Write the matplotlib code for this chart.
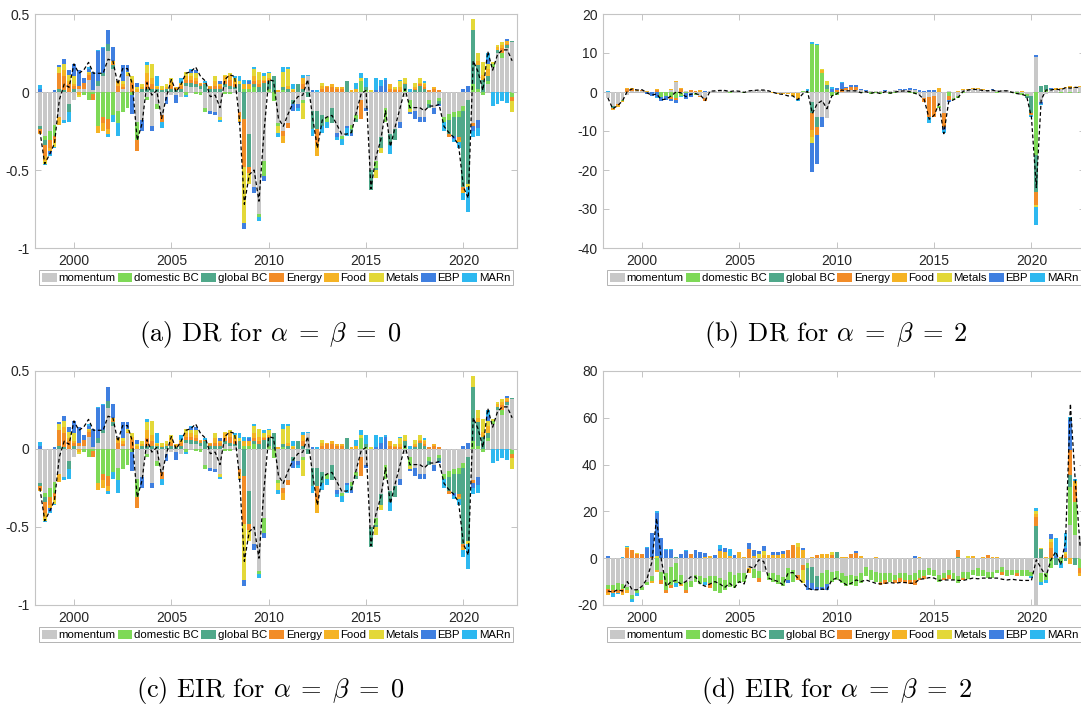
import numpy as np
import matplotlib
matplotlib.use('Agg')
import matplotlib.pyplot as plt
from matplotlib.patches import Patch

# quarterly observations 1998Q2 .. 2022Q3
n_q = 98
dates = 1998.25 + 0.25 * np.arange(n_q)

names = ['momentum', 'domestic BC', 'global BC', 'Energy', 'Food', 'Metals', 'EBP', 'MARn']
colors = ['#c8c8c8', '#7ed957', '#4fa88a', '#f28c28', '#f5b324', '#e3d838', '#3f7fe0', '#2db8f0']

# ---- DR / EIR for alpha = beta = 0 (panels a and c) ----
a_mom = [-0.22, -0.28, -0.25, -0.21, -0.16, -0.18, -0.08, -0.05, 0.02, 0.02,
         0.08, 0.01, 0.04, 0.10, 0.26, 0.15, -0.12, 0.02, 0.10, 0,
         -0.19, -0.18, -0.03, -0.22, -0.08, -0.15, -0.03, -0.02, -0.02, -0.03,
         0.04, 0.03, 0.03, 0.02, -0.10, -0.12, -0.13, -0.16, 0.03, 0.02,
         0.02, -0.13, 0, -0.27, -0.61, -0.78, -0.44, 0, 0, -0.20,
         -0.25, -0.20, -0.05, -0.08, -0.05, 0.10, -0.12, -0.12, -0.15, -0.16,
         -0.10, -0.26, -0.28, -0.22, -0.21, -0.15, -0.05, -0.10, -0.50, -0.44,
         -0.29, -0.10, -0.27, -0.24, -0.19, -0.03, -0.05, -0.12, -0.16, -0.16,
         -0.05, -0.10, -0.04, -0.16, -0.14, -0.13, -0.12, -0.09, -0.05, -0.20,
         -0.18, 0, 0.05, 0.16, 0.25, 0.22, 0.28, 0.32]
a_dom = [0, -0.03, -0.06, -0.07, 0, 0, 0, 0, 0, -0.02,
         -0.05, -0.01, -0.22, -0.16, -0.17, -0.15, -0.08, -0.13, -0.10, -0.02,
         -0.12, 0, -0.02, 0, -0.03, 0, 0, 0, 0, 0,
         -0.02, 0, -0.01, -0.02, -0.03, 0, 0, 0, -0.01, -0.01,
         0, 0, 0.02, 0.02, 0.03, -0.02, -0.10, 0.02, -0.06, -0.02,
         0.01, 0, 0, 0, -0.02, 0, 0, 0, 0, -0.03,
         0, 0, -0.02, 0, -0.03, -0.02, 0.07, 0.01, 0, -0.05,
         0, -0.09, 0, 0, 0, 0.01, -0.06, 0, 0, 0,
         -0.03, 0, -0.02, -0.03, -0.04, -0.03, -0.04, -0.03, 0, 0.05,
         0.02, -0.02, 0.02, 0.02, 0, 0.03, 0, -0.03]
a_glob = [-0.02, -0.03, 0, 0, 0.02, 0.01, -0.05, 0.02, 0, 0,
          0, 0, 0.03, 0.02, 0.05, 0.02, 0, 0, 0, 0,
          0, 0.02, 0.02, 0.02, 0.02, 0.01, 0.02, 0.02, 0.01, 0.02,
          0.02, 0.03, 0.02, 0.02, 0.05, 0.02, 0.02, 0.02, 0.02, 0.02,
          0.01, 0.05, -0.17, -0.21, 0.02, 0.03, 0.06, 0.05, 0.10, 0,
          0.02, 0.02, -0.03, 0.05, 0.02, -0.03, -0.12, -0.12, -0.07, 0,
          -0.10, 0, 0, 0.07, -0.02, -0.02, 0, 0.02, -0.13, -0.01,
          -0.07, 0, -0.07, -0.07, 0, 0.04, 0, 0.01, 0.04, 0.02,
          -0.02, 0, -0.02, 0, -0.09, -0.12, -0.13, -0.49, -0.54, 0.35,
          0.15, 0.08, 0.03, 0, 0.02, 0, 0.02, 0.01]
a_ene = [-0.02, -0.07, -0.05, -0.03, 0.10, 0.09, 0.05, 0.02, 0.02, 0.04,
         0.03, -0.04, 0, -0.04, -0.07, 0.01, 0.04, 0.01, 0, 0.06,
         -0.07, 0, 0.05, 0.03, 0, -0.04, 0, 0.02, 0.01, 0.02,
         0.02, 0.02, 0.02, 0.01, 0.01, 0.01, 0.02, 0.02, 0.02, 0.04,
         0.02, -0.03, -0.31, -0.04, 0.02, 0.02, 0.01, 0.01, 0, 0,
         -0.03, -0.03, 0, 0, 0.03, 0, 0, -0.09, 0.02, 0.03,
         0.03, 0.02, 0.02, 0, 0, 0, -0.12, 0, 0, 0,
         0, 0, 0.02, 0.01, 0.01, 0, 0, 0.01, 0.01, 0.01,
         0.01, 0.02, 0.01, 0, -0.02, 0, -0.02, -0.02, 0, -0.02,
         0, 0, 0, 0, 0, 0.03, 0.01, -0.03]
a_food = [-0.01, -0.03, -0.02, -0.02, -0.05, 0.04, 0.02, 0.01, -0.02, 0,
          0.01, 0, -0.04, -0.05, -0.03, 0.02, 0.03, 0.02, 0.01, 0.02,
          0.02, 0.01, 0.05, 0.04, 0.01, 0.01, 0.01, 0.03, 0.01, 0.01,
          0.02, 0.02, 0.02, 0.01, 0, 0.01, 0.03, 0.01, 0.03, 0.03,
          0.02, -0.03, 0.03, 0.03, 0.03, 0.03, 0.01, 0.01, 0, 0.01,
          -0.05, 0.02, 0.01, 0, 0.04, 0, 0, -0.08, 0.02, 0.01,
          0.02, 0.01, 0.01, 0, 0.01, 0.02, 0, 0, 0, 0,
          0, 0, 0.03, 0.01, 0.02, 0.01, 0, 0.01, 0.01, 0.02,
          0, 0.01, 0, 0, 0, 0, -0.01, -0.02, 0, 0,
          0.03, 0.03, 0.05, 0, 0.02, 0.02, 0.02, 0]
a_met = [0, -0.02, 0, -0.02, 0.04, 0.04, 0.04, 0.05, -0.01, 0,
         0.01, 0, 0, 0, 0, 0, 0, 0.02, 0.02, 0.02,
         0.01, 0.02, 0.05, 0.09, 0.01, 0.02, 0.02, 0.02, 0, 0.01,
         0.03, 0.02, 0.03, 0, 0, 0, 0.03, -0.02, 0.01, 0.01,
         0.02, 0.02, -0.36, -0.07, 0.05, 0.05, 0.02, 0.03, 0, -0.04,
         0.10, 0.11, 0.01, 0, -0.10, 0, 0, 0, 0.02, 0,
         0, 0, 0, 0, 0, 0, 0.02, 0, 0.01, -0.05,
         -0.03, 0, 0, 0.01, 0.04, 0.03, -0.02, 0.03, 0.03, 0.01,
         0, 0, 0, 0, 0, 0, 0, 0, -0.02, 0.07,
         0.05, 0.08, 0.03, 0.01, 0.01, 0.02, 0, -0.07]
a_ebp = [0.02, 0, -0.02, 0.01, 0.01, 0.03, 0.03, 0.08, 0.10, 0.03,
         0.02, 0.12, 0.19, 0.16, 0.09, 0.09, 0, 0.10, 0.04, -0.12,
         0.03, -0.07, 0, -0.03, 0, 0, -0.05, 0, -0.05, 0,
         0, 0.02, 0.02, 0, 0, -0.02, -0.02, 0.02, 0, 0,
         0, -0.01, -0.04, 0.02, -0.04, 0, -0.03, 0, 0, 0,
         0, 0, -0.04, -0.02, 0, 0, 0.01, 0, 0, 0,
         0, -0.03, 0, -0.01, -0.02, 0, 0, -0.02, 0, 0.01,
         0.04, 0.08, 0, 0, -0.04, 0, -0.01, -0.05, -0.03, -0.03,
         0, -0.04, -0.01, 0, 0, -0.02, 0, 0.02, 0.04, -0.03,
         -0.05, 0, 0.03, 0, 0, 0, 0.01, 0]
a_marn = [0.025, -0.01, -0.01, -0.01, 0, -0.02, -0.06, 0, 0, 0,
          0.01, 0, 0.01, 0.01, -0.02, -0.04, -0.08, 0, 0, 0,
          0, 0, 0.02, 0, 0.06, -0.04, 0, 0, 0, 0.03,
          -0.01, 0.01, 0, 0, 0.01, 0, 0, -0.01, 0, 0,
          0.01, 0.03, 0.03, 0.01, 0.01, -0.03, 0.02, 0.01, 0, -0.03,
          0.03, 0.01, 0.03, -0.02, 0.02, 0.01, -0.04, 0.01, -0.04, -0.04,
          0, -0.02, -0.04, -0.05, 0, 0.04, 0.03, 0.06, 0, 0.08,
          0.04, 0.01, -0.06, 0, 0.01, 0, 0.02, 0, 0, 0.01,
          0, 0, 0, -0.06, 0, -0.02, -0.04, -0.04, -0.16, -0.04,
          -0.05, 0, 0.04, -0.09, -0.08, -0.06, -0.07, 0]
a_line = [-0.25, -0.46, -0.40, -0.33, -0.05, 0.05, 0.03, 0.18, 0.12, 0.14,
          0.19, 0.12, 0.12, 0.12, 0.21, 0.20, 0.05, 0.15, 0.15, 0.05,
          -0.31, -0.20, 0.06, -0.02, 0.01, -0.17, -0.03, 0.08, 0.0, 0.05,
          0.12, 0.13, 0.16, 0.10, 0.07, -0.03, -0.02, -0.10, 0.08, 0.11,
          0.10, -0.18, -0.72, -0.53, -0.50, -0.70, -0.27, 0.08, 0.07, -0.17,
          -0.22, -0.14, -0.07, -0.03, -0.02, 0.08, -0.16, -0.36, -0.18, -0.16,
          -0.15, -0.21, -0.27, -0.27, -0.26, -0.13, -0.01, 0.01, -0.62, -0.42,
          -0.31, -0.12, -0.35, -0.22, -0.10, 0.02, -0.10, -0.10, -0.10, -0.12,
          -0.09, -0.09, -0.08, -0.22, -0.26, -0.29, -0.34, -0.61, -0.68, 0.20,
          0.13, 0.01, 0.26, 0.14, 0.24, 0.27, 0.27, 0.20]

# ---- DR for alpha = beta = 2 (panel b) ----
b_mom = [-1.5, -3.5, -3.2, -2.0, -0.8, 0.3, 0.3, 0.3, 0.1, -0.1,
         0, 0, 0, 0.5, 2.5, -0.3, 0.2, -0.2, -0.3, -0.9,
         -1.5, 0.2, 0.2, 0.4, 0.4, 0.3, 0.3, 0.2, 0.1, 0.2,
         0.4, 0.5, 0.4, 0.3, 0.1, -0.3, -0.3, -0.3, -0.3, -0.2,
         -0.3, 0.3, -2.5, -6.4, -6.4, -6.6, 0, 0, 0.1, 0.4,
         0.4, 0.4, 0.4, 0.3, 0.3, 0.3, 0.3, 0.3, 0.2, 0.4,
         0.4, 0.5, 0.5, 0.4, -0.8, -1.5, -1.3, -1.0, -3.5, -5.5,
         0.3, -1.5, -1.0, 0.5, 0.6, 0.8, 0.7, 0.5, 0.4, 0.6,
         0.5, 0.4, 0.4, 0.3, 0.2, -0.3, -0.5, -1.0, 9.0, -2.5,
         -0.5, 0.4, 0.6, 0.7, 1.0, 1.1, 1.0, 1.2]
b_dom = [0, 0, 0, -0.4, 0, 0, 0, -0.1, 0, 0,
         0, -1.4, -1.0, -1.2, -1.5, -0.6, -0.2, 0, -0.5, 0,
         0, 0, 0.1, 0, 0, -0.3, 0, 0, -0.2, 0,
         0, 0, 0, 0, 0, 0, 0, 0, 0, 0,
         0.2, -0.3, 12.3, 12.0, 4.9, 0.8, -1.0, -0.8, 0, 0,
         0, 0, -0.3, 0, -0.4, -0.2, -0.5, 0, -0.4, -0.3,
         0, 0, -0.3, -0.5, 0, 0, 0, 0, -0.5, 0,
         -1.0, -0.5, -0.5, -0.3, 0, 0, 0, 0, 0, 0,
         -0.3, 0, 0, -0.3, -0.5, -0.5, -0.5, 0, -16.2, 0,
         0.5, 0, 0, -0.3, 0, -0.3, 0, -0.3]
b_glob = [0, -0.5, 0, 0, 0, 0, 0, 0, 0, 0,
          0, 0, 0, 0, 0, 0, 0, 0, 0, 0,
          0, 0, 0, 0, 0, 0, 0, 0, 0, 0,
          0, 0, 0, 0, 0, 0, 0, 0, 0, 0,
          0, 0, -3.0, -2.6, 0, 0.9, 0, 0, 0, 0,
          0, 0, 0, 0, 0, 0, 0, 0, 0, 0,
          0, 0, 0, 0, 0, 0, 0, 0, 0, 0,
          0, 0, 0, 0, 0, 0, 0, 0, 0, 0,
          0, 0, 0, 0, 0, 0, -0.5, -4.5, -9.4, 1.5,
          1.2, 0.4, 0, 0, 0, 0, 0, 0]
b_ene = [0, -0.3, -0.2, 0, 0.7, 0.5, 0, 0.1, 0, 0.1,
         0.6, 0, 0.1, -0.5, -0.6, 0.7, 0, 0.6, 0.3, -0.3,
         -0.8, 0.1, 0, 0, 0, 0, 0, 0, 0, 0,
         0, 0, 0, 0, 0, 0, 0, 0, 0, 0,
         0, 0, -4.3, -2.0, 0, 0, 0, 0.5, 0.6, 0.5,
         0.8, 0.8, 0, 0, 0, 0, 0, 0, 0, 0,
         0, 0, 0, 0, 0, -1.0, -5.2, -5.4, 0, -3.5,
         -1.0, 0, 0, 0, 0, 0, 0, 0, 0, 0,
         0, 0, 0, 0, 0, 0, 0, -0.5, -3.4, 0,
         0, 0, 0, 0, 0, 0, 0, 0]
b_food = [0, -0.3, -0.5, -0.2, 0.3, 0.3, 0.1, 0, 0.1, 0,
          0.2, 0.1, 0, 0.3, 0.2, 0.2, 0, 0, 0, 0.4,
          0, 0, 0, 0.1, 0, 0, 0, 0, 0, 0.1,
          0, 0, 0.1, 0, -0.2, -0.2, -0.3, -0.3, -0.7, -1.6,
          0, 0, -1.7, 0, 0.7, 0, 0, 0, 0, 0,
          0, 0, 0, 0, 0, 0, 0, 0, 0, 0,
          0, 0, 0, 0, 0, 0, 0, 0, 1.0, 0,
          0, 0, 0.3, 0.2, 0.2, 0.3, 0.2, 0.2, 0, 0,
          0, 0.1, 0, 0, 0, 0.3, 0, 0, 0, 0,
          0, 0, 0.3, 0.2, 0.3, 0.4, 0.3, 0.3]
b_met = [0, 0, 0, 0, 0, 0, 0, 0, 0, 0,
         0, 0, 0, 0, 0, 0, 0, 0, 0, 0,
         0, 0, 0, 0, 0, 0, 0, 0, 0, 0,
         0, 0, 0, 0, 0, 0, 0, 0, 0, 0,
         0, 0, -1.7, 0, 0.4, 1.0, 0, 0, 0, 0,
         0, 0, 0, 0, 0, 0, 0, 0, 0, 0,
         0, 0, 0, 0, 0, 0, 0, 0, 0, 0,
         0, 0, 0, 0, 0, 0, 0, 0, 0, 0,
         0, 0, 0, 0, 0, 0, 0, 0, -0.5, 0,
         0, 0, 0, 0, 0, 0, 0, 0]
b_ebp = [0, 0, 0, 0, 0, 0, 0, 0, -0.4, -0.9,
         -1.2, -0.8, -1.0, -0.6, -0.8, 0, -1.5, -1.0, 0, 0,
         0.3, 0, 0, 0, 0, 0, 0, 0, 0, 0,
         0, 0, 0, 0, 0, 0, 0, 0, 0, -0.3,
         0, 0, -7.3, -7.4, -2.6, 0, 0.8, 0.5, 1.5, 0.4,
         0.6, 0.6, 0.4, 0.2, 0, 0, 0, 0.2, 0, 0.2,
         0.3, 0.3, 0.4, 0.3, 0.4, 0.3, 0.5, 0.4, 0, -0.7,
         -0.5, 0, 0, 0, 0, 0, 0, 0, 0, 0.2,
         0, 0, 0, 0, 0, 0, 0, 0, 0.4, -0.5,
         0, 0.3, 0, 0, 0, 0, 0, 0]
b_marn = [0.3, 0, 0, 0, 0, 0, 0, 0, 0, 0,
          -0.3, 0, 0, 0, 0, -0.4, 0, 0, 0, 0,
          0, 0, 0, 0, 0, 0, 0, 0, 0, 0,
          0, 0, 0, 0, 0, 0, 0, 0, 0, -0.2,
          0, 0.4, 0.4, 0.3, 0, 0, 0.4, 0, 0.3, 0,
          0, 0, 0, 0, 0, 0, 0, 0, 0, 0,
          0, 0, 0, 0, 0, 0, -1.5, 0, 0, -0.8,
          0, 0, 0, 0, 0, 0, 0, 0, 0, 0,
          0, 0, 0, 0, 0, 0, 0, -0.5, -4.7, -0.3,
          0, 0, 0, 0, 0, 0, 0, 0]
b_line = [-1.5, -4.3, -3.5, -2.3, 0.2, 0.8, 0.5, 0.6, -0.2, -0.8,
          -0.5, -2.0, -1.8, -1.0, 0.0, -0.2, -1.2, -0.6, -0.4, -0.8,
          -2.2, 0.2, 0.3, 0.4, 0.4, 0.1, 0.3, 0.2, -0.1, 0.3,
          0.4, 0.5, 0.5, 0.3, -0.1, -0.5, -0.6, -1.0, -1.0, -2.0,
          -0.5, 0.2, -5.5, -3.0, -2.2, -4.3, -1.0, -0.5, 0.5, 0.3,
          0.3, 0.3, -0.2, 0.1, -0.3, -0.1, -0.4, 0.1, -0.3, 0.0,
          0.2, 0.3, 0.1, -0.3, -0.8, -2.0, -7.0, -6.0, -3.0, -10.7,
          -2.5, -2.0, -1.3, 0.2, 0.5, 0.7, 0.6, 0.4, 0.3, 0.5,
          0.1, 0.3, 0.3, -0.1, -0.4, -0.6, -1.0, -6.5, -24.5, -2.0,
          0.5, 0.5, 0.8, 0.5, 1.1, 1.0, 1.2, 1.1]

# ---- EIR for alpha = beta = 2 (panel d) ----
d_mom = [-11.4, -11.4, -10.4, -11.0, -12.2, -15.7, -13.5, -12.1, -10.0, -7.8,
         0, -5.7, -6.4, -3.6, -2.1, -7.1, -10.0, -9.7, -7.1, -7.8,
         -8.5, -7.8, -7.8, -8.5, -9.3, -5.7, -7.0, -6.4, -6.5, -4.3,
         -4.5, -5.5, -5.7, -6.4, -6.4, -7.0, -8.0, -4.3, -5.0, -7.0,
         -2.9, -2.1, -3.6, -7.8, -6.4, -5.0, -5.7, -5.5, -6.4, -7.5,
         -7.0, -7.5, -6.4, -3.6, -5.0, -6.0, -6.4, -6.4, -6.4, -7.1,
         -6.4, -6.4, -7.1, -6.4, -5.0, -5.0, -4.3, -5.0, -7.1, -6.4,
         -5.0, -6.4, -7.8, -5.7, -5.7, -5.0, -4.3, -5.0, -5.7, -5.7,
         -5.0, -3.6, -5.0, -5.0, -5.0, -5.0, -5.0, -5.7, -20.0, -6.4,
         -6.4, 0, 0, 0, 0, 14.2, 10.0, 9.3]
d_dom = [-1.8, -2.1, -3.1, -2.3, -1.4, -1.9, -1.4, -1.4, -1.4, -2.1,
         -5.0, -3.6, -7.1, -7.8, -8.3, -3.8, -3.6, -2.4, -2.9, -3.1,
         -1.5, -3.0, -6.4, -6.4, -4.2, -6.4, -5.7, -4.3, -3.5, 0,
         -4.0, -3.0, 0, -2.9, -3.6, -4.0, -4.0, -5.0, -5.0, 0,
         0, -2.1, 0, 0, -5.7, -6.0, -4.3, -3.8, -4.3, -4.5,
         -4.4, -4.5, -4.3, -4.2, -4.3, -4.0, -3.6, -2.9, -3.6, -2.1,
         -2.1, -2.9, -2.1, -3.1, -3.6, -2.8, -2.8, -2.8, -2.9, -2.1,
         -2.1, -2.9, -2.9, -2.9, -3.3, -2.1, -3.5, -2.8, -2.8, -2.8,
         -1.4, -2.1, -2.8, -2.1, -1.4, -2.8, -2.8, -2.1, 0, -3.6,
         -2.9, -4.3, 0, -2.0, 0, 16.4, 14.0, -4.0]
d_glob = [0, 0, 0, 0, 0, 0, 0, 0, 0, 0,
          0, 0, 0, 0, 0.6, 0, 0, 0, 0, 0,
          0, 0, 0, 0, 0, 0, 0, 0, 0, 0,
          0, 0, 0, 0, 0, 0, 0, 0, 0, 0,
          0, -5.0, -7.1, -4.3, 0, 0, 0, 2.7, 0, 0,
          0, 0, 0, 0, 0, 0, 0, 0, 0, 0,
          0, 0, 0, 0, 0, 0, 0, 0, 0, 0,
          0, 0, 0.6, 0, 0, 0, 0, 0, 0, 0,
          0, 0, 0, 0, 0, 0, 0, 0, 13.8, 4.0,
          0, 0, -2.8, 0, -1.0, 5.0, -3.0, 0]
d_ene = [-1.5, -1.5, -1.4, -1.4, 4.3, 3.4, 1.9, 2.0, 0, 0.5,
         0, -1.7, -1.5, -1.4, 0, 0, -1.4, 2.0, 0, 0,
         0, -2.0, 0, 0, 0, 0, 0, 0, 0, 4.0,
         0, -1.5, 0, 0, 0, 0, 0, 3.5, 5.5, -2.3,
         -2.1, 0, 0, 1.5, 0, 0, 1.5, 0, 0, 0,
         2.0, 2.2, 0, 0, 0, 0, -1.4, -1.7, 0, -1.2,
         -1.5, -1.4, -1.8, -1.9, -0.7, -1.0, 0, 0, 0, -0.8,
         -1.9, 0, 3.0, -0.7, 0, 0, 0, 0, 1.3, 0,
         0, -1.4, 0, 0, -1.4, 0, 0, 0, 4.0, 0,
         0, 4.3, 0, 0, 1.0, 10.7, 7.0, -2.5]
d_food = [-1.0, 0, 0, -1.0, -1.4, 0, 0, 0, 0, -0.8,
          -1.0, 0, 0, 0, 0, -0.8, 0, 0, 0, 0,
          0.7, 1.0, 0, 3.0, 2.5, 1.0, 0, 2.5, 0.5, -2.1,
          1.0, 0, 1.4, 1.5, 1.5, 1.5, 2.0, 0, 0, 5.0,
          3.3, 0, 0.5, 0, 1.6, 1.6, 0, 0, 0.3, 0.3,
          0, 0, 0.8, 0, 0, 0.3, 0, 0, 0, 0,
          0, 0, 0, 0, 0.5, 0, 0, 0, 0, 0,
          0, 0, 0, 0, 0, 1.0, 0, 0.5, 0, 0.5,
          0.5, 0, 0, 0, 0, 0, 0, 0, 1.0, 0,
          0.5, 2.8, 0, 0.5, 1.0, -2.5, 1.8, -1.3]
d_met = [0, 0, 0, 0, 0.7, 0, 0.2, 0, 0, 0,
         1.0, 0, 0, 0, 0, 0, 0, 0, 0, 0,
         0, 0, 0, 0, 0, 0, 0, 0, 0, 0,
         0, 1.6, 1.5, 0, 0, 0, 0, 0, 0, 1.3,
         -5.7, 0, 0, 0, 0, 0, 1.3, 0, 0, 0,
         0, 0, 0, 0, 0, 0, 0, 0, 0, 0,
         0, 0, 0, 0, 0, 0, 0, 0, 0, 0,
         0, 0, 0, 0, 1.0, 0, 0, 0, 0, 0,
         0, 0, 0, 0, 0, 0, 0, 0, 1.2, 0.4,
         0, 1.2, 0, 0, 0.5, 0, 0, 0]
d_ebp = [1.0, 0, 0, 0, 0, 0, 0, 0, 4.2, 10.2,
         18.5, 8.5, 3.7, 3.7, 0, 2.0, 3.0, 0, 3.4, 2.5,
         1.5, 0, 1.5, 1.0, 2.0, 0, 1.3, 0, 0, 2.7,
         2.6, 1.5, 2.5, 0, 1.3, 1.0, 1.2, -1.4, 0, 0,
         1.0, -4.3, -2.8, -1.7, -1.4, -2.5, 0, 0, 0, 0,
         0, 1.0, 0, 0, 0, 0, 0, 0, 0, 0,
         0, 0, 0, 0.8, 0, 0, 0, 0, 0, 0,
         0, 0, 0, 0, 0, 0, 0, 0, 0, 0,
         0, 0, 0, 0, 0, 0, 0, 0, 0, 0,
         0, 2.1, 1.0, 0, 2.0, 12.8, 0, 0]
d_marn = [0, -1.7, -0.6, 0.3, 0.4, -1.3, -1.1, 0, 0.4, 0,
          0.5, 0, 0.3, 0.3, -1.7, 0, 0.5, 0, 0, 0,
          -1.4, 0, 0, 1.5, 0, 3.0, 0, 0, 0, 0,
          0, 0, 0, 0, 0, 0, 0, 0, 0, 0,
          0, 0, 0, 0, 0, 0, 0, 0, 0, 0,
          0, 0, 0, 0, 0, 0, 0, 0, 0, 0,
          0, 0, 0, 0, 0, 0, 0, 0, 0, 0,
          0, 0, 0, 0, 0, 0, 0, 0, 0, 0,
          0, 0, 0, 0, 0, 0, 0, -0.7, 1.4, -1.4,
          -1.4, 0, 7.5, -2.0, 6.2, 1.4, 1.0, 0]
d_line = [-14.0, -14.5, -13.5, -14.0, -10.0, -13.5, -13.5, -12.0, -9.0, -2.0,
          17.0, -1.0, -12.0, -10.0, -9.5, -11.0, -10.0, -8.0, -8.0, -11.0,
          -12.0, -11.0, -10.0, -11.0, -12.5, -10.7, -12.5, -10.0, -11.0, -3.6,
          -4.3, -0.7, -1.4, -8.5, -9.3, -10.0, -11.4, -6.4, -6.1, -8.5,
          -10.4, -12.8, -13.5, -13.5, -13.2, -13.5, -9.3, -8.5, -10.0, -11.4,
          -10.7, -9.3, -10.0, -9.3, -10.0, -10.7, -11.0, -10.7, -10.4, -10.7,
          -10.4, -10.4, -10.7, -10.7, -9.0, -8.8, -8.3, -8.5, -9.5, -9.3,
          -9.3, -9.3, -9.5, -9.5, -9.0, -8.5, -8.8, -8.5, -8.5, -8.5,
          -8.5, -9.0, -9.3, -9.0, -9.3, -9.5, -9.5, -9.5, -0.7, -4.3,
          -7.8, -0.7, 2.8, -2.8, 7.1, 66.0, 33.0, 5.0]

plt.rcParams['font.family'] = ['Liberation Sans', 'DejaVu Sans']
plt.rcParams['axes.unicode_minus'] = False
plt.rcParams['mathtext.fontset'] = 'cm'

grey = '#c4c4c4'


def draw_panel(ax, comps, line, ylim, yticks):
    pos_base = np.zeros(n_q)
    neg_base = np.zeros(n_q)
    for vals, col in zip(comps, colors):
        v = np.asarray(vals, dtype=float)
        p = np.where(v > 0, v, 0.0)
        n = np.where(v < 0, v, 0.0)
        ax.bar(dates, p, width=0.2, bottom=pos_base, color=col, linewidth=0)
        ax.bar(dates, n, width=0.2, bottom=neg_base, color=col, linewidth=0)
        pos_base += p
        neg_base += n
    ax.axhline(0, color='#b0b0b0', lw=0.6, zorder=0.5)
    ax.plot(dates, line, color='k', ls=(0, (3, 2)), lw=0.9)
    ax.set_xlim(1998, 2022.75)
    ax.set_ylim(*ylim)
    ax.set_yticks(yticks)
    ax.set_yticklabels([f'{t:g}' for t in yticks])
    ax.set_xticks([2000, 2005, 2010, 2015, 2020])
    ax.tick_params(direction='in', length=4, width=0.7, color=grey,
                   labelcolor='#262626', labelsize=10, top=True, right=True, pad=4)
    for s in ax.spines.values():
        s.set_color(grey)
        s.set_linewidth(0.8)
    handles = [Patch(facecolor=c, edgecolor='none') for c in colors]
    leg = ax.legend(handles, names, loc='upper center', bbox_to_anchor=(0.5, -0.095),
                    ncol=8, fontsize=8.2, frameon=True, fancybox=False,
                    handlelength=1.3, handleheight=0.9, handletextpad=0.15,
                    columnspacing=0.2, borderpad=0.2, borderaxespad=0)
    leg.get_frame().set_edgecolor('#a0a0a0')
    leg.get_frame().set_linewidth(0.7)


fig = plt.figure(figsize=(10.81, 7.15), dpi=100)
W, H = 1081, 715
aw, ah = 482 / W, 234 / H
ax_a = fig.add_axes([35 / W, 1 - 248 / H, aw, ah])
ax_b = fig.add_axes([603 / W, 1 - 248 / H, aw, ah])
ax_c = fig.add_axes([35 / W, 1 - 605 / H, aw, ah])
ax_d = fig.add_axes([603 / W, 1 - 605 / H, aw, ah])

comp_a = [a_mom, a_dom, a_glob, a_ene, a_food, a_met, a_ebp, a_marn]
comp_b = [b_mom, b_dom, b_glob, b_ene, b_food, b_met, b_ebp, b_marn]
comp_d = [d_mom, d_dom, d_glob, d_ene, d_food, d_met, d_ebp, d_marn]

draw_panel(ax_a, comp_a, a_line, (-1, 0.5), [-1, -0.5, 0, 0.5])
draw_panel(ax_b, comp_b, b_line, (-40, 20), [-40, -30, -20, -10, 0, 10, 20])
draw_panel(ax_c, comp_a, a_line, (-1, 0.5), [-1, -0.5, 0, 0.5])
draw_panel(ax_d, comp_d, d_line, (-20, 80), [-20, 0, 20, 40, 60, 80])

cap_kw = dict(ha='center', va='center', fontsize=19, family='cmr10')
eq = r'$\alpha\;=\;\beta\;=\;%d$'
fig.text(270 / W, 1 - 335 / H, '(a) DR for ' + eq % 0, **cap_kw)
fig.text(836 / W, 1 - 335 / H, '(b) DR for ' + eq % 2, **cap_kw)
fig.text(270 / W, 1 - 690 / H, '(c) EIR for ' + eq % 0, **cap_kw)
fig.text(836 / W, 1 - 690 / H, '(d) EIR for ' + eq % 2, **cap_kw)

fig.savefig('out.png', dpi=100)
